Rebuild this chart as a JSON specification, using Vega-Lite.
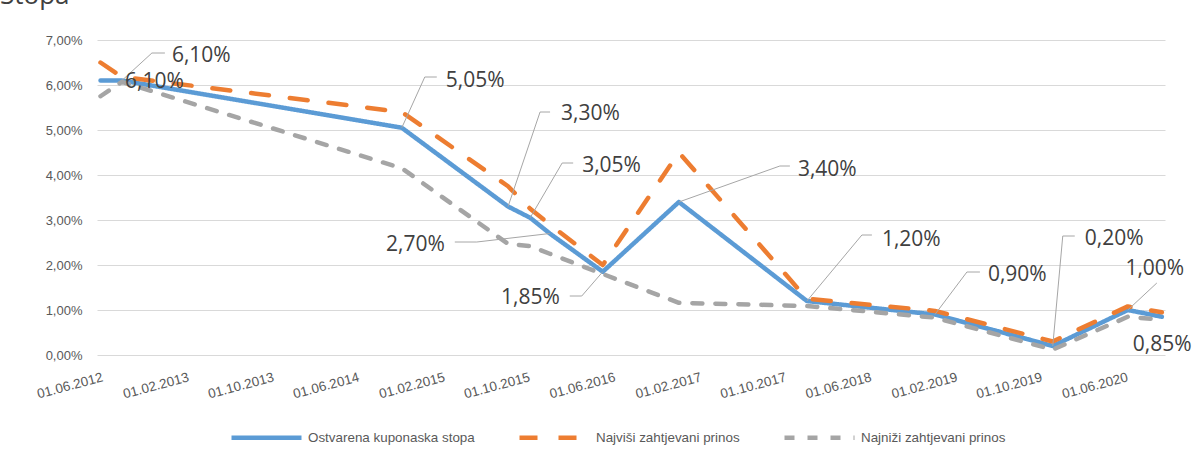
{
  "$schema": "https://vega.github.io/schema/vega-lite/v6.json",
  "width": 1068,
  "height": 315,
  "autosize": "none",
  "padding": {"left": 97, "top": 40, "right": 36, "bottom": 107},
  "background": "white",
  "title": {"text": "Stopa", "anchor": "start", "frame": "group", "dx": -97, "offset": 4, "fontSize": 26, "font": "Open Sans", "fontWeight": "normal", "color": "#404040", "baseline": "alphabetic"},
  "data": {
    "format": {"parse": {"date": "utc:'%Y-%m-%d'"}},
    "values": [
      {"series": "Ostvarena kuponaska stopa", "date": "2012-06-01", "value": 0.061},
      {"series": "Ostvarena kuponaska stopa", "date": "2012-08-01", "value": 0.061},
      {"series": "Ostvarena kuponaska stopa", "date": "2014-10-08", "value": 0.0505},
      {"series": "Ostvarena kuponaska stopa", "date": "2015-08-07", "value": 0.033},
      {"series": "Ostvarena kuponaska stopa", "date": "2015-10-09", "value": 0.0305},
      {"series": "Ostvarena kuponaska stopa", "date": "2015-12-04", "value": 0.027},
      {"series": "Ostvarena kuponaska stopa", "date": "2016-05-03", "value": 0.0185},
      {"series": "Ostvarena kuponaska stopa", "date": "2016-12-06", "value": 0.034},
      {"series": "Ostvarena kuponaska stopa", "date": "2017-12-06", "value": 0.012},
      {"series": "Ostvarena kuponaska stopa", "date": "2018-12-06", "value": 0.009},
      {"series": "Ostvarena kuponaska stopa", "date": "2019-11-07", "value": 0.002},
      {"series": "Ostvarena kuponaska stopa", "date": "2020-06-08", "value": 0.01},
      {"series": "Ostvarena kuponaska stopa", "date": "2020-09-13", "value": 0.0085},
      {"series": "Najviši zahtjevani prinos", "date": "2012-06-01", "value": 0.065},
      {"series": "Najviši zahtjevani prinos", "date": "2012-08-01", "value": 0.0618},
      {"series": "Najviši zahtjevani prinos", "date": "2014-10-08", "value": 0.054},
      {"series": "Najviši zahtjevani prinos", "date": "2015-08-07", "value": 0.0375},
      {"series": "Najviši zahtjevani prinos", "date": "2015-10-09", "value": 0.0325},
      {"series": "Najviši zahtjevani prinos", "date": "2015-12-04", "value": 0.029},
      {"series": "Najviši zahtjevani prinos", "date": "2016-05-03", "value": 0.02},
      {"series": "Najviši zahtjevani prinos", "date": "2016-12-06", "value": 0.045},
      {"series": "Najviši zahtjevani prinos", "date": "2017-12-06", "value": 0.0125},
      {"series": "Najviši zahtjevani prinos", "date": "2018-12-06", "value": 0.0098},
      {"series": "Najviši zahtjevani prinos", "date": "2019-11-07", "value": 0.003},
      {"series": "Najviši zahtjevani prinos", "date": "2020-06-08", "value": 0.0108},
      {"series": "Najviši zahtjevani prinos", "date": "2020-09-13", "value": 0.0095},
      {"series": "Najniži zahtjevani prinos", "date": "2012-06-01", "value": 0.0575},
      {"series": "Najniži zahtjevani prinos", "date": "2012-08-01", "value": 0.0607},
      {"series": "Najniži zahtjevani prinos", "date": "2014-10-08", "value": 0.0415},
      {"series": "Najniži zahtjevani prinos", "date": "2015-08-07", "value": 0.0247},
      {"series": "Najniži zahtjevani prinos", "date": "2015-10-09", "value": 0.0242},
      {"series": "Najniži zahtjevani prinos", "date": "2015-12-04", "value": 0.0225},
      {"series": "Najniži zahtjevani prinos", "date": "2016-05-03", "value": 0.018},
      {"series": "Najniži zahtjevani prinos", "date": "2016-12-06", "value": 0.0116},
      {"series": "Najniži zahtjevani prinos", "date": "2017-12-06", "value": 0.0109},
      {"series": "Najniži zahtjevani prinos", "date": "2018-12-06", "value": 0.0083},
      {"series": "Najniži zahtjevani prinos", "date": "2019-11-07", "value": 0.0012},
      {"series": "Najniži zahtjevani prinos", "date": "2020-06-08", "value": 0.0085},
      {"series": "Najniži zahtjevani prinos", "date": "2020-09-13", "value": 0.0078}
    ]
  },
  "encoding": {
    "x": {
      "field": "date", "type": "temporal",
      "scale": {"type": "utc", "domain": [{"year": 2012, "month": 5, "date": 22, "utc": true}, {"year": 2020, "month": 9, "date": 22, "utc": true}]},
      "axis": {
        "title": null, "grid": false, "domain": false, "ticks": false,
        "values": [
          {"year": 2012, "month": 6, "date": 1, "utc": true},
          {"year": 2013, "month": 2, "date": 1, "utc": true},
          {"year": 2013, "month": 10, "date": 1, "utc": true},
          {"year": 2014, "month": 6, "date": 1, "utc": true},
          {"year": 2015, "month": 2, "date": 1, "utc": true},
          {"year": 2015, "month": 10, "date": 1, "utc": true},
          {"year": 2016, "month": 6, "date": 1, "utc": true},
          {"year": 2017, "month": 2, "date": 1, "utc": true},
          {"year": 2017, "month": 10, "date": 1, "utc": true},
          {"year": 2018, "month": 6, "date": 1, "utc": true},
          {"year": 2019, "month": 2, "date": 1, "utc": true},
          {"year": 2019, "month": 10, "date": 1, "utc": true},
          {"year": 2020, "month": 6, "date": 1, "utc": true}
        ],
        "labelExpr": "utcFormat(datum.value, '%d.%m.%Y')",
        "labelAngle": -15, "labelAlign": "right", "labelBaseline": "top", "labelPadding": 15,
        "labelFont": "Liberation Sans", "labelFontSize": 13.5, "labelColor": "#595959",
        "labelOverlap": false, "labelFlush": false, "labelBound": false
      }
    },
    "y": {
      "field": "value", "type": "quantitative",
      "scale": {"domain": [0, 0.07], "nice": false},
      "axis": {
        "title": null, "domain": false, "ticks": false, "grid": true, "gridColor": "#D9D9D9", "gridWidth": 1,
        "values": [0, 0.01, 0.02, 0.03, 0.04, 0.05, 0.06, 0.07],
        "format": ".2%", "labelPadding": 15,
        "labelFont": "Liberation Sans", "labelFontSize": 13, "labelColor": "#595959"
      }
    }
  },
  "layer": [
    {
      "mark": {"type": "line", "strokeWidth": 4.5, "strokeCap": "round", "strokeJoin": "round"},
      "encoding": {
        "color": {
          "field": "series", "type": "nominal",
          "scale": {"domain": ["Ostvarena kuponaska stopa", "Najviši zahtjevani prinos", "Najniži zahtjevani prinos"], "range": ["#5B9BD5", "#ED7D31", "#A5A5A5"]},
          "legend": {"title": null, "orient": "none", "legendX": 132, "legendY": 360, "direction": "horizontal", "symbolType": "stroke", "symbolSize": 4900, "symbolStrokeWidth": 4.5, "labelFont": "Liberation Sans", "labelFontSize": 13.4, "labelColor": "#595959", "labelLimit": 400, "columnPadding": 35, "labelOffset": 4, "padding": 0}
        },
        "strokeDash": {
          "field": "series", "type": "nominal",
          "scale": {"domain": ["Ostvarena kuponaska stopa", "Najviši zahtjevani prinos", "Najniži zahtjevani prinos"], "range": [[1, 0], [18, 21], [10, 13]]},
          "legend": {"title": null, "orient": "none", "legendX": 132, "legendY": 360, "direction": "horizontal", "symbolType": "stroke", "symbolSize": 4900, "symbolStrokeWidth": 4.5, "labelFont": "Liberation Sans", "labelFontSize": 13.4, "labelColor": "#595959", "labelLimit": 400, "columnPadding": 35, "labelOffset": 4, "padding": 0}
        }
      }
    },
    {
      "transform": [{"filter": "datum.series == 'Ostvarena kuponaska stopa' && datum.value == 0.061 && utcmonth(datum.date) == 7"}],
      "layer": [
        {"mark": {"type": "rule", "color": "#A6A6A6", "strokeWidth": 1, "x2Offset": 30, "y2Offset": -27.5}, "encoding": {"x2": {"field": "date"}, "y2": {"field": "value"}}},
        {"mark": {"type": "rule", "color": "#A6A6A6", "strokeWidth": 1, "xOffset": 30, "yOffset": -27.5, "x2Offset": 43, "y2Offset": -27.5}, "encoding": {"x2": {"field": "date"}, "y2": {"field": "value"}}},
        {"mark": {"type": "text", "align": "left", "baseline": "middle", "dx": 50, "dy": -25, "font": "Open Sans", "fontSize": 21, "color": "#404040"}, "encoding": {"text": {"field": "value", "type": "quantitative", "format": ".2%"}}}
      ]
    },
    {
      "transform": [{"filter": "datum.series == 'Ostvarena kuponaska stopa' && datum.value == 0.061 && utcmonth(datum.date) == 5"}],
      "mark": {"type": "text", "align": "left", "baseline": "middle", "dx": 24.5, "dy": 1, "font": "Open Sans", "fontSize": 21, "color": "#404040"},
      "encoding": {"text": {"field": "value", "type": "quantitative", "format": ".2%"}}
    },
    {
      "transform": [{"filter": "datum.series == 'Ostvarena kuponaska stopa' && datum.value == 0.0505"}],
      "layer": [
        {"mark": {"type": "rule", "color": "#A6A6A6", "strokeWidth": 1, "x2Offset": 23, "y2Offset": -50.75}, "encoding": {"x2": {"field": "date"}, "y2": {"field": "value"}}},
        {"mark": {"type": "rule", "color": "#A6A6A6", "strokeWidth": 1, "xOffset": 23, "yOffset": -50.75, "x2Offset": 35, "y2Offset": -50.75}, "encoding": {"x2": {"field": "date"}, "y2": {"field": "value"}}},
        {"mark": {"type": "text", "align": "left", "baseline": "middle", "dx": 44, "dy": -47, "font": "Open Sans", "fontSize": 21, "color": "#404040"}, "encoding": {"text": {"field": "value", "type": "quantitative", "format": ".2%"}}}
      ]
    },
    {
      "transform": [{"filter": "datum.series == 'Ostvarena kuponaska stopa' && datum.value == 0.033"}],
      "layer": [
        {"mark": {"type": "rule", "color": "#A6A6A6", "strokeWidth": 1, "x2Offset": 32, "y2Offset": -94.5}, "encoding": {"x2": {"field": "date"}, "y2": {"field": "value"}}},
        {"mark": {"type": "rule", "color": "#A6A6A6", "strokeWidth": 1, "xOffset": 32, "yOffset": -94.5, "x2Offset": 42, "y2Offset": -94.5}, "encoding": {"x2": {"field": "date"}, "y2": {"field": "value"}}},
        {"mark": {"type": "text", "align": "left", "baseline": "middle", "dx": 53, "dy": -93, "font": "Open Sans", "fontSize": 21, "color": "#404040"}, "encoding": {"text": {"field": "value", "type": "quantitative", "format": ".2%"}}}
      ]
    },
    {
      "transform": [{"filter": "datum.series == 'Ostvarena kuponaska stopa' && datum.value == 0.0305"}],
      "layer": [
        {"mark": {"type": "rule", "color": "#A6A6A6", "strokeWidth": 1, "x2Offset": 32, "y2Offset": -54.75}, "encoding": {"x2": {"field": "date"}, "y2": {"field": "value"}}},
        {"mark": {"type": "rule", "color": "#A6A6A6", "strokeWidth": 1, "xOffset": 32, "yOffset": -54.75, "x2Offset": 43, "y2Offset": -54.75}, "encoding": {"x2": {"field": "date"}, "y2": {"field": "value"}}},
        {"mark": {"type": "text", "align": "left", "baseline": "middle", "dx": 52, "dy": -52, "font": "Open Sans", "fontSize": 21, "color": "#404040"}, "encoding": {"text": {"field": "value", "type": "quantitative", "format": ".2%"}}}
      ]
    },
    {
      "transform": [{"filter": "datum.series == 'Ostvarena kuponaska stopa' && datum.value == 0.027"}],
      "layer": [
        {"mark": {"type": "rule", "color": "#A6A6A6", "strokeWidth": 1, "x2Offset": -73, "y2Offset": 8.5}, "encoding": {"x2": {"field": "date"}, "y2": {"field": "value"}}},
        {"mark": {"type": "rule", "color": "#A6A6A6", "strokeWidth": 1, "xOffset": -73, "yOffset": 8.5, "x2Offset": -95, "y2Offset": 8.5}, "encoding": {"x2": {"field": "date"}, "y2": {"field": "value"}}},
        {"mark": {"type": "text", "align": "right", "baseline": "middle", "dx": -105, "dy": 11.5, "font": "Open Sans", "fontSize": 21, "color": "#404040"}, "encoding": {"text": {"field": "value", "type": "quantitative", "format": ".2%"}}}
      ]
    },
    {
      "transform": [{"filter": "datum.series == 'Ostvarena kuponaska stopa' && datum.value == 0.0185"}],
      "layer": [
        {"mark": {"type": "rule", "color": "#A6A6A6", "strokeWidth": 1, "x2Offset": -21, "y2Offset": 24.25}, "encoding": {"x2": {"field": "date"}, "y2": {"field": "value"}}},
        {"mark": {"type": "rule", "color": "#A6A6A6", "strokeWidth": 1, "xOffset": -21, "yOffset": 24.25, "x2Offset": -33, "y2Offset": 24.25}, "encoding": {"x2": {"field": "date"}, "y2": {"field": "value"}}},
        {"mark": {"type": "text", "align": "right", "baseline": "middle", "dx": -43, "dy": 26, "font": "Open Sans", "fontSize": 21, "color": "#404040"}, "encoding": {"text": {"field": "value", "type": "quantitative", "format": ".2%"}}}
      ]
    },
    {
      "transform": [{"filter": "datum.series == 'Ostvarena kuponaska stopa' && datum.value == 0.034"}],
      "layer": [
        {"mark": {"type": "rule", "color": "#A6A6A6", "strokeWidth": 1, "x2Offset": 101, "y2Offset": -36}, "encoding": {"x2": {"field": "date"}, "y2": {"field": "value"}}},
        {"mark": {"type": "rule", "color": "#A6A6A6", "strokeWidth": 1, "xOffset": 101, "yOffset": -36, "x2Offset": 111, "y2Offset": -36}, "encoding": {"x2": {"field": "date"}, "y2": {"field": "value"}}},
        {"mark": {"type": "text", "align": "left", "baseline": "middle", "dx": 119, "dy": -32.5, "font": "Open Sans", "fontSize": 21, "color": "#404040"}, "encoding": {"text": {"field": "value", "type": "quantitative", "format": ".2%"}}}
      ]
    },
    {
      "transform": [{"filter": "datum.series == 'Ostvarena kuponaska stopa' && datum.value == 0.012"}],
      "layer": [
        {"mark": {"type": "rule", "color": "#A6A6A6", "strokeWidth": 1, "x2Offset": 55, "y2Offset": -66}, "encoding": {"x2": {"field": "date"}, "y2": {"field": "value"}}},
        {"mark": {"type": "rule", "color": "#A6A6A6", "strokeWidth": 1, "xOffset": 55, "yOffset": -66, "x2Offset": 65, "y2Offset": -66}, "encoding": {"x2": {"field": "date"}, "y2": {"field": "value"}}},
        {"mark": {"type": "text", "align": "left", "baseline": "middle", "dx": 75, "dy": -61.5, "font": "Open Sans", "fontSize": 21, "color": "#404040"}, "encoding": {"text": {"field": "value", "type": "quantitative", "format": ".2%"}}}
      ]
    },
    {
      "transform": [{"filter": "datum.series == 'Ostvarena kuponaska stopa' && datum.value == 0.009"}],
      "layer": [
        {"mark": {"type": "rule", "color": "#A6A6A6", "strokeWidth": 1, "x2Offset": 32, "y2Offset": -42.5}, "encoding": {"x2": {"field": "date"}, "y2": {"field": "value"}}},
        {"mark": {"type": "rule", "color": "#A6A6A6", "strokeWidth": 1, "xOffset": 32, "yOffset": -42.5, "x2Offset": 45, "y2Offset": -42.5}, "encoding": {"x2": {"field": "date"}, "y2": {"field": "value"}}},
        {"mark": {"type": "text", "align": "left", "baseline": "middle", "dx": 53, "dy": -39.5, "font": "Open Sans", "fontSize": 21, "color": "#404040"}, "encoding": {"text": {"field": "value", "type": "quantitative", "format": ".2%"}}}
      ]
    },
    {
      "transform": [{"filter": "datum.series == 'Ostvarena kuponaska stopa' && datum.value == 0.002"}],
      "layer": [
        {"mark": {"type": "rule", "color": "#A6A6A6", "strokeWidth": 1, "x2Offset": 10, "y2Offset": -110}, "encoding": {"x2": {"field": "date"}, "y2": {"field": "value"}}},
        {"mark": {"type": "rule", "color": "#A6A6A6", "strokeWidth": 1, "xOffset": 10, "yOffset": -110, "x2Offset": 22, "y2Offset": -110}, "encoding": {"x2": {"field": "date"}, "y2": {"field": "value"}}},
        {"mark": {"type": "text", "align": "left", "baseline": "middle", "dx": 32, "dy": -107, "font": "Open Sans", "fontSize": 21, "color": "#404040"}, "encoding": {"text": {"field": "value", "type": "quantitative", "format": ".2%"}}}
      ]
    },
    {
      "transform": [{"filter": "datum.series == 'Ostvarena kuponaska stopa' && datum.value == 0.01"}],
      "layer": [
        {"mark": {"type": "rule", "color": "#A6A6A6", "strokeWidth": 1, "x2Offset": 29, "y2Offset": -27}, "encoding": {"x2": {"field": "date"}, "y2": {"field": "value"}}},
        {"mark": {"type": "text", "align": "center", "baseline": "middle", "dx": 27, "dy": -41.5, "font": "Open Sans", "fontSize": 21, "color": "#404040"}, "encoding": {"text": {"field": "value", "type": "quantitative", "format": ".2%"}}}
      ]
    },
    {
      "transform": [{"filter": "datum.series == 'Ostvarena kuponaska stopa' && datum.value == 0.0085"}],
      "mark": {"type": "text", "align": "left", "baseline": "middle", "dx": -29, "dy": 27.75, "font": "Open Sans", "fontSize": 21, "color": "#404040"},
      "encoding": {"text": {"field": "value", "type": "quantitative", "format": ".2%"}}
    }
  ],
  "config": {
    "view": {"stroke": null},
    "locale": {"number": {"decimal": ",", "thousands": ".", "grouping": [3], "currency": ["", " €"]}}
  }
}
